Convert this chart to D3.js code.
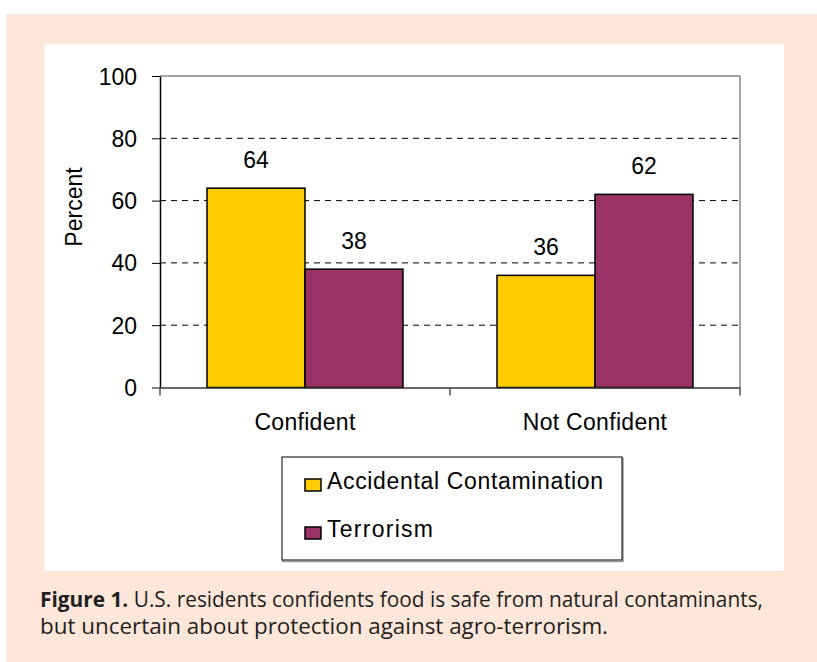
<!DOCTYPE html>
<html>
<head>
<meta charset="utf-8">
<script src="https://cdn.jsdelivr.net/npm/d3@7"></script>
<style>
  body { margin: 0; background: #fff; }
  svg text { font-family: "Liberation Sans", Arial, sans-serif; fill: #000; }
  .caption { font-family: "Open Sans", "Noto Sans", sans-serif; fill: #231f20; }
</style>
</head>
<body>
<div id="chart"></div>
<script>
// Data
const categories = ['Confident', 'Not Confident'];
const seriesNames = ['Accidental Contamination', 'Terrorism'];
const seriesColors = ['#ffcc00', '#993366'];
const accidental = [64, 36];
const terrorism = [38, 62];
const yTicks = [0, 20, 40, 60, 80, 100];

const rows = categories.map((c, i) => ({
  category: c,
  values: [accidental[i], terrorism[i]],
}));

const W = 817;
const H = 662;
const margin = {top: 76, right: 77, bottom: 275, left: 160};
const plotW = W - margin.left - margin.right;
const plotH = 387.5 - margin.top;

const svg = d3.select('#chart')
  .append('svg')
  .attr('width', W)
  .attr('height', H);

// Backgrounds
svg.append('rect')
  .attr('x', 6).attr('y', 14)
  .attr('width', W - 6).attr('height', H - 14)
  .attr('fill', '#fde6da');
svg.append('rect')
  .attr('x', 44).attr('y', 44)
  .attr('width', 740).attr('height', 527)
  .attr('fill', '#fff');

const g = svg.append('g')
  .attr('transform', `translate(${margin.left},${margin.top})`);

const x0 = d3.scaleBand()
  .domain(categories)
  .range([0, plotW]);

const x1 = d3.scaleBand()
  .domain(seriesNames)
  .range([0, x0.bandwidth()])
  .paddingOuter(0.48);

const y = d3.scaleLinear()
  .domain([0, 100])
  .range([plotH, 0]);

// Dashed gridlines
g.append('g')
  .selectAll('line')
  .data(yTicks.filter(t => t > 0 && t < 100))
  .join('line')
  .attr('x1', 0).attr('x2', plotW)
  .attr('y1', d => y(d)).attr('y2', d => y(d))
  .attr('stroke', '#000')
  .attr('stroke-width', 1)
  .attr('stroke-dasharray', '6,5');

// Top and right border
g.append('line')
  .attr('x1', 0).attr('x2', plotW)
  .attr('y1', y(100)).attr('y2', y(100))
  .attr('stroke', '#888').attr('stroke-width', 1.5);
g.append('line')
  .attr('x1', plotW).attr('x2', plotW)
  .attr('y1', y(100)).attr('y2', y(0))
  .attr('stroke', '#888').attr('stroke-width', 1.5);

// Bars
const groups = g.selectAll('.grp')
  .data(rows)
  .join('g')
  .attr('class', 'grp')
  .attr('transform', d => `translate(${x0(d.category)},0)`);

groups.selectAll('rect')
  .data(d => d.values.map((v, i) => ({name: seriesNames[i], value: v, color: seriesColors[i]})))
  .join('rect')
  .attr('x', d => x1(d.name))
  .attr('y', d => y(d.value))
  .attr('width', x1.bandwidth())
  .attr('height', d => y(0) - y(d.value))
  .attr('fill', d => d.color)
  .attr('stroke', '#000')
  .attr('stroke-width', 1.5);

groups.selectAll('.val')
  .data(d => d.values.map((v, i) => ({name: seriesNames[i], value: v})))
  .join('text')
  .attr('class', 'val')
  .attr('x', d => x1(d.name) + x1.bandwidth() / 2)
  .attr('y', d => y(d.value) - 20)
  .attr('text-anchor', 'middle')
  .style('font-size', '23px')
  .text(d => d.value);

// Y axis
const yAxis = d3.axisLeft(y)
  .tickValues(yTicks)
  .tickSize(8)
  .tickPadding(15)
  .tickSizeOuter(0);

const yg = g.append('g').call(yAxis);
yg.select('.domain').attr('stroke', '#000').attr('stroke-width', 1.5);
yg.selectAll('.tick line').attr('stroke', '#000');
yg.selectAll('.tick text')
  .attr('dy', '0.35em')
  .style('font-size', '23px')
  .style('font-family', '"Liberation Sans", Arial, sans-serif')
  .attr('fill', '#000');

// X axis
const xAxis = d3.axisBottom(x0)
  .tickSize(0)
  .tickPadding(26)
  .tickSizeOuter(0);

const xg = g.append('g')
  .attr('transform', `translate(0,${plotH})`)
  .call(xAxis);
xg.select('.domain').attr('stroke', '#333').attr('stroke-width', 1.5);
xg.selectAll('.tick text')
  .attr('dy', '0.71em')
  .style('font-size', '23px')
  .style('letter-spacing', '0.3px')
  .style('font-family', '"Liberation Sans", Arial, sans-serif')
  .attr('fill', '#000');

// Category boundary ticks
const bounds = [0].concat(categories.map(c => x0(c) + x0.bandwidth()));
xg.selectAll('.bound')
  .data(bounds)
  .join('line')
  .attr('class', 'bound')
  .attr('x1', d => d).attr('x2', d => d)
  .attr('y1', 0).attr('y2', 8)
  .attr('stroke', '#555').attr('stroke-width', 1.5);

// Y title
g.append('text')
  .attr('transform', `translate(${-160 + 82},${207 - margin.top}) rotate(-90)`)
  .attr('text-anchor', 'middle')
  .style('font-size', '23px')
  .text('Percent');

// Legend
const legendWidths = [276, 106];
const legend = svg.append('g').attr('transform', 'translate(282,457)');
legend.append('rect')
  .attr('x', 1).attr('y', 1.5)
  .attr('width', 340).attr('height', 103)
  .attr('fill', 'none').attr('stroke', '#999').attr('stroke-width', 1.5);
legend.append('rect')
  .attr('width', 340).attr('height', 103)
  .attr('fill', '#fff').attr('stroke', '#000').attr('stroke-width', 1);

const items = legend.selectAll('.item')
  .data(seriesNames)
  .join('g')
  .attr('class', 'item')
  .attr('transform', (d, i) => `translate(0,${17 + i * 48})`);
items.append('rect')
  .attr('x', 23).attr('y', 5)
  .attr('width', 16).attr('height', 12)
  .attr('fill', (d, i) => seriesColors[i])
  .attr('stroke', '#000').attr('stroke-width', 1.5);
items.append('text')
  .attr('x', 45).attr('y', 7)
  .attr('dy', '0.35em')
  .attr('textLength', (d, i) => legendWidths[i])
  .attr('lengthAdjust', 'spacing')
  .style('font-size', '23px')
  .text(d => d);

// Caption
const cap = svg.append('g').attr('class', 'caption');
const line1 = cap.append('text')
  .attr('class', 'caption')
  .attr('x', 40).attr('y', 607)
  .attr('textLength', 723)
  .attr('lengthAdjust', 'spacingAndGlyphs')
  .style('font-size', '21px');
line1.append('tspan')
  .style('font-weight', 'bold')
  .text('Figure 1.');
line1.append('tspan')
  .text(' U.S. residents confidents food is safe from natural contaminants,');

cap.append('text')
  .attr('class', 'caption')
  .attr('x', 40).attr('y', 634)
  .attr('textLength', 568)
  .attr('lengthAdjust', 'spacingAndGlyphs')
  .style('font-size', '21px')
  .text('but uncertain about protection against agro-terrorism.');
</script>
</body>
</html>
